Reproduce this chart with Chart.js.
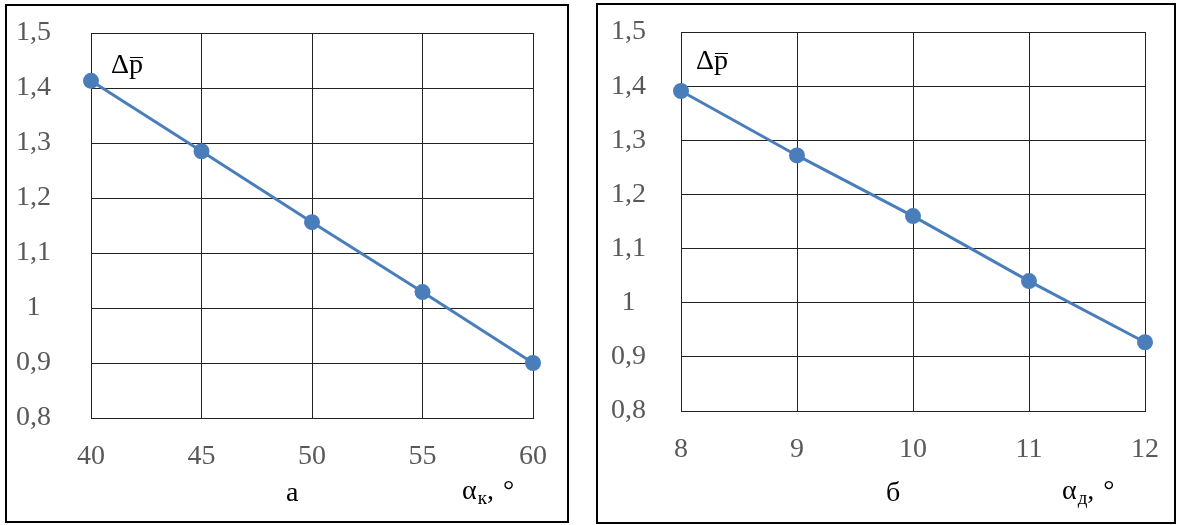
<!DOCTYPE html>
<html>
<head>
<meta charset="utf-8">
<script src="https://cdn.jsdelivr.net/npm/chart.js@4.4.0/dist/chart.umd.min.js"></script>
<style>
  body { margin: 0; background: #fff; width: 1181px; height: 525px; position: relative; overflow: hidden; }
  .panel { position: absolute; border: 2px solid #000; box-sizing: border-box; }
  canvas { position: absolute; }
  .lbl { position: absolute; font-family: "Liberation Serif", "Times New Roman", serif; font-size: 28px; line-height: 1; color: #000; white-space: nowrap; }
  .lbl sub { font-size: 19px; vertical-align: -5px; margin-left: 1px; }
  .ov { position: relative; display: inline-block; }
  .ov::before { content: ''; position: absolute; left: 1px; right: 0; top: 7px; border-top: 1.5px solid #000; }
  .deg { margin-left: 9px; }
</style>
</head>
<body>
<div class="panel" style="left:5px; top:4px; width:564px; height:519px;"></div>
<div class="panel" style="left:596px; top:3px; width:580px; height:521px;"></div>
<canvas id="chartA" width="556" height="512" style="left:8px; top:7px;"></canvas>
<canvas id="chartB" width="573" height="515" style="left:600px; top:6px;"></canvas>

<div class="lbl" style="left:111px; top:50px;">Δ<span class="ov">p</span></div>
<div class="lbl" style="left:696px; top:46px;">Δ<span class="ov">p</span></div>
<div class="lbl" style="left:286px; top:478px;">а</div>
<div class="lbl" style="left:462px; top:476px;">α<sub>к</sub>,<span class="deg">°</span></div>
<div class="lbl" style="left:886px; top:478px;">б</div>
<div class="lbl" style="left:1062px; top:476px;">α<sub>д</sub>,<span class="deg">°</span></div>

<script>
// chart a
const anglesK = [40, 45, 50, 55, 60];
const dpK = [1.413, 1.285, 1.156, 1.029, 0.900];
// chart b
const anglesD = [8, 9, 10, 11, 12];
const dpD = [1.391, 1.272, 1.160, 1.040, 0.927];
// y axis ticks
const yTicks = [0.8, 0.9, 1.0, 1.1, 1.2, 1.3, 1.4, 1.5];

const gridColor = '#222';
const tickFont = { family: '"Liberation Serif", "Times New Roman", serif', size: 28 };

function makeChart(id, xs, ys, xMin, xMax, xStep, yWidth, yPad, xHeight, rightPad) {
    return new Chart(document.getElementById(id), {
        type: 'scatter',
        data: {
            datasets: [{
                data: xs.map((x, i) => ({ x: x, y: ys[i] })),
                showLine: true,
                borderColor: '#4a7ebb',
                backgroundColor: '#4a7ebb',
                borderWidth: 3,
                pointRadius: 6.5,
                pointHoverRadius: 6.5,
                clip: false
            }]
        },
        options: {
            responsive: false,
            animation: false,
            layout: {
                autoPadding: false,
                padding: { top: 26, right: rightPad, left: 0, bottom: 0 }
            },
            plugins: { legend: { display: false }, tooltip: { enabled: false } },
            scales: {
                x: {
                    type: 'linear',
                    min: xMin,
                    max: xMax,
                    grid: { color: gridColor, lineWidth: 1, drawTicks: false },
                    border: { color: gridColor, width: 1 },
                    ticks: {
                        stepSize: xStep,
                        color: '#595959',
                        font: tickFont,
                        padding: 22,
                        maxRotation: 0
                    },
                    afterFit: (scale) => {
                        scale.height = xHeight;
                        scale.paddingLeft = 0;
                        scale.paddingRight = 0;
                    }
                },
                y: {
                    min: 0.8,
                    max: 1.5,
                    afterBuildTicks: (scale) => { scale.ticks = yTicks.map(v => ({ value: v })); },
                    grid: { color: gridColor, lineWidth: 1, drawTicks: false },
                    border: { color: gridColor, width: 1 },
                    ticks: {
                        color: '#595959',
                        font: tickFont,
                        padding: yPad,
                        crossAlign: 'center',
                        callback: (v) => String(Number(v.toFixed(1))).replace('.', ',')
                    },
                    afterFit: (scale) => {
                        scale.width = yWidth;
                        scale.paddingTop = 0;
                        scale.paddingBottom = 0;
                    }
                }
            }
        }
    });
}

makeChart('chartA', anglesK, dpK, 40, 60, 5, 83, 40, 101, 31);
makeChart('chartB', anglesD, dpD, 8, 12, 1, 81, 35, 110, 28);
</script>
</body>
</html>
